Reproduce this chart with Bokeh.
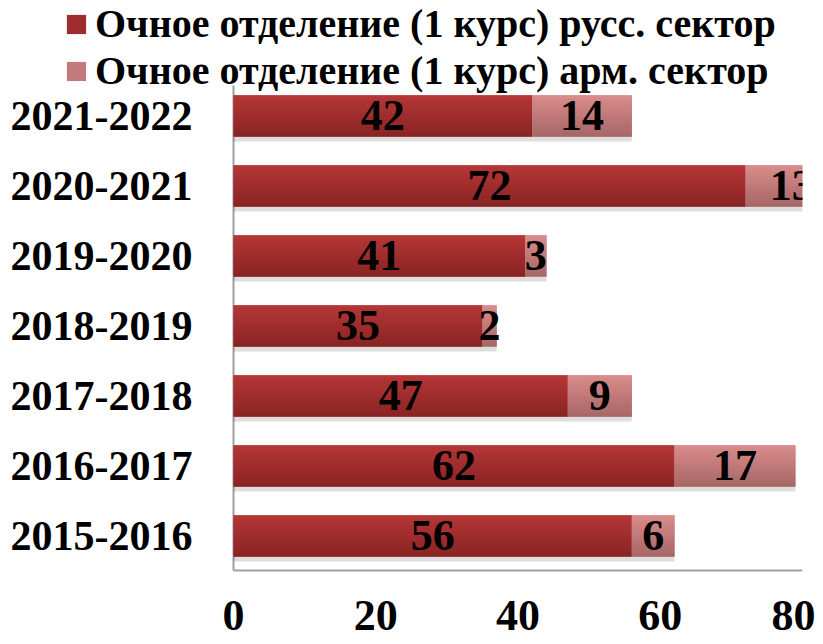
from bokeh.plotting import figure
from bokeh.models import ColumnDataSource, FixedTicker, Legend, LegendItem, Range1d
from bokeh.core.properties import value
from bokeh.embed import file_html
from bokeh.resources import INLINE

years = ["2015-2016", "2016-2017", "2017-2018", "2018-2019", "2019-2020", "2020-2021", "2021-2022"]
russ = [56, 62, 47, 35, 41, 72, 42]
arm = [6, 17, 9, 2, 3, 13, 14]
x_ticks = [0, 20, 40, 60, 80]
series_names = ["Очное отделение (1 курс) русс. сектор", "Очное отделение (1 курс) арм. сектор"]

FONT = "Liberation Serif"
H = 0.586
N = 12
RUSS_TOP, RUSS_BOT, RUSS_MID = "#b73737", "#882323", "#a02d2d"
ARM_TOP, ARM_BOT, ARM_MID = "#db8c8c", "#a66666", "#c37a7a"
AXIS_C = "#a0a0a0"

ys = list(range(len(years)))
totals = [a + b for a, b in zip(russ, arm)]

# layout constants (pixels)
W, HGT = 815, 644
AXIS_PX, RIGHT_PX = 233, 802          # x=0 and x=80 screen positions
X_MAX = 80
X_MIN = -X_MAX * AXIS_PX / (RIGHT_PX - AXIS_PX)
PX_PER_X = (RIGHT_PX - AXIS_PX) / X_MAX
BAND = 70.0
Y_BOTTOM = -0.493                      # value at the bottom axis line
Y_FRAME_BOTTOM = Y_BOTTOM - 2 / BAND
Y_TOP_AXIS = 6.436                     # top end of the vertical axis line
Y_MAX = 6 + 115.5 / BAND               # frame top (canvas top)

p = figure(width=W, height=HGT, output_backend="svg", toolbar_location=None,
           x_range=Range1d(X_MIN, X_MAX), y_range=Range1d(Y_FRAME_BOTTOM, Y_MAX),
           min_border_left=0, min_border_right=W - RIGHT_PX, min_border_top=0,
           min_border_bottom=72, y_axis_location=None)
p.outline_line_color = None
p.xgrid.grid_line_color = None
p.ygrid.grid_line_color = None


def lerp(c1, c2, t):
    a = [int(c1[i:i + 2], 16) for i in (1, 3, 5)]
    b = [int(c2[i:i + 2], 16) for i in (1, 3, 5)]
    return "#%02x%02x%02x" % tuple(round(a[k] + (b[k] - a[k]) * t) for k in range(3))


# axis lines
p.segment(x0=[0, 0], y0=[Y_BOTTOM, Y_BOTTOM], x1=[0, X_MAX], y1=[Y_TOP_AXIS, Y_BOTTOM],
          line_color=AXIS_C, line_width=2)

# shadow
p.hbar(y=[y - 0.07 for y in ys], left=0, right=totals, height=H, fill_color="black",
       fill_alpha=0.13, line_color=None)


def grad_bar(left, right, top_c, bot_c, mid_c):
    base = p.hbar(y=ys, left=left, right=right, height=H, fill_color=mid_c, line_color=None)
    for i in range(N):
        t = (i + 0.5) / N
        yc = [y + H / 2 - (i + 0.5) * H / N for y in ys]
        p.hbar(y=yc, left=left, right=right, height=H / N * 1.08,
               fill_color=lerp(top_c, bot_c, t), line_color=None)
    return base


r1 = grad_bar([0] * len(ys), russ, RUSS_TOP, RUSS_BOT, RUSS_MID)
r2 = grad_bar(russ, totals, ARM_TOP, ARM_BOT, ARM_MID)

# value labels (clipped at the right edge like the original)
lab_src = ColumnDataSource(dict(
    x=[v / 2 for v in russ] + [r + a / 2 for r, a in zip(russ, arm)],
    y=ys + ys,
    t=[str(v) for v in russ] + [str(v) for v in arm]))
p.text(x="x", y="y", text="t", source=lab_src, text_align="center", text_baseline="middle",
       text_font=value(FONT), text_font_style="bold", text_font_size="44px", text_color="black")

# category labels (left of the vertical axis)
p.text(x=[-41 / PX_PER_X] * len(ys), y=ys, text=years, text_align="right",
       text_baseline="middle", text_font=value(FONT), text_font_style="bold",
       text_font_size="42px", text_color="black")

# x axis (labels only; its line is drawn above so it starts at 0)
p.xaxis.ticker = FixedTicker(ticks=x_ticks)
p.xaxis.major_tick_line_color = None
p.xaxis.minor_tick_line_color = None
p.xaxis.axis_line_color = None
p.xaxis.major_label_text_font = FONT
p.xaxis.major_label_text_font_style = "bold"
p.xaxis.major_label_text_font_size = "44px"
p.xaxis.major_label_text_color = "black"
p.xaxis.major_label_standoff = 22

legend = Legend(items=[LegendItem(label=series_names[0], renderers=[r1]),
                       LegendItem(label=series_names[1], renderers=[r2])],
                location=(64, 478), orientation="vertical",
                label_text_font=FONT, label_text_font_style="bold", label_text_font_size="40px",
                label_text_color="black", glyph_width=24, glyph_height=24, label_standoff=7,
                spacing=-10, padding=0, margin=0, background_fill_alpha=0, border_line_color=None,
                label_height=40)
p.add_layout(legend)

open("out.html", "w").write(file_html(p, INLINE))
